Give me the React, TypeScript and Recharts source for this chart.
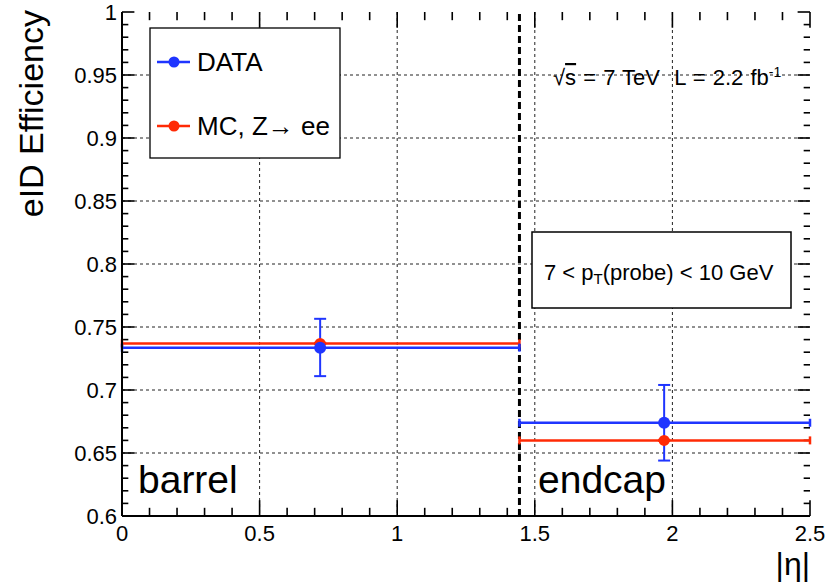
import React from "react";
import {
  ComposedChart,
  Scatter,
  XAxis,
  YAxis,
  CartesianGrid,
  ReferenceLine,
  ErrorBar,
} from "recharts";

// ---- data ----
const regions = ["barrel", "endcap"];
const binLow = [0, 1.4442];
const binHigh = [1.4442, 2.5];
const pointX = [0.72, 1.97];
const dataEff = [0.7336, 0.674];
const dataErrLow = [0.0226, 0.03];
const dataErrHigh = [0.0229, 0.03];
const mcEff = [0.737, 0.66];
const mcErr = [0.0005, 0.0005];
const seriesNames = ["DATA", "MC, Z\u2192 ee"];
const seriesColors = ["#1f35ff", "#ff2a05"];
const xMajor = [0, 0.5, 1, 1.5, 2, 2.5];
const yMajor = [0.6, 0.65, 0.7, 0.75, 0.8, 0.85, 0.9, 0.95, 1];
const xDomain = [0, 2.5];
const yDomain = [0.6, 1];
const barrelEdge = 1.4442;

const xTicksAll: number[] = [];
for (let i = 0; i <= 25; i++) xTicksAll.push(i / 10);
const yTicksAll: number[] = [];
for (let i = 60; i <= 100; i++) yTicksAll.push(i / 100);

const dataRows = pointX.map((x, i) => ({
  x,
  y: dataEff[i],
  ex: [x - binLow[i], binHigh[i] - x],
  ey: [dataErrLow[i], dataErrHigh[i]],
}));
const mcRows = pointX.map((x, i) => ({
  x,
  y: mcEff[i],
  ex: [x - binLow[i], binHigh[i] - x],
  ey: [mcErr[i], mcErr[i]],
}));

const FONT = "'Liberation Sans', Arial, Helvetica, sans-serif";
const isMajor = (v: number, list: number[]) =>
  list.some((m) => Math.abs(m - v) < 1e-6);
const fmt = (v: number) => String(Math.round(v * 100) / 100);

// inward tick lengths expressed in axis units (plot is ~688 x 504 px)
const xTickLen = (major: boolean) => (major ? 0.0125 : 0.0065); // along y
const yTickLen = (major: boolean) => (major ? 0.045 : 0.023); // along x

const LeftTick = (props: any) => {
  const x = Number(props.x);
  const y = Number(props.y);
  const v = props.payload.value;
  if (!isMajor(v, yMajor)) return <g />;
  return (
    <text x={x - 5} y={y} dy="0.36em" textAnchor="end" fontSize={22} fontFamily={FONT} fill="#000">
      {fmt(v)}
    </text>
  );
};
const BottomTick = (props: any) => {
  const x = Number(props.x);
  const y = Number(props.y);
  const v = props.payload.value;
  if (!isMajor(v, xMajor)) return <g />;
  return (
    <text x={x} y={y + 25} textAnchor="middle" fontSize={22} fontFamily={FONT} fill="#000">
      {fmt(v)}
    </text>
  );
};

const makeDot = (color: string, r: number) => (props: any) =>
  <circle cx={props.cx} cy={props.cy} r={r} fill={color} />;

const tickStroke = { stroke: "#000", strokeWidth: 1.6 };

export default function App() {
  return (
    <div style={{ position: "absolute", left: 0, top: 0, width: 838, height: 586, background: "#fff" }}>
      <ComposedChart
        width={838}
        height={586}
        margin={{ top: 12, right: 28, bottom: 40, left: 62 }}
      >
        <XAxis
          xAxisId="b"
          type="number"
          dataKey="x"
          domain={xDomain}
          allowDataOverflow
          ticks={xMajor}
          interval={0}
          tickSize={0}
          tickMargin={0}
          tickLine={false}
          tick={<BottomTick />}
          axisLine={{ stroke: "#000", strokeWidth: 2 }}
          height={30}
        />
        <XAxis
          xAxisId="t"
          orientation="top"
          type="number"
          dataKey="x"
          domain={xDomain}
          allowDataOverflow
          tick={false}
          tickLine={false}
          axisLine={{ stroke: "#000", strokeWidth: 2 }}
          height={0}
        />
        <YAxis
          yAxisId="l"
          type="number"
          dataKey="y"
          domain={yDomain}
          allowDataOverflow
          ticks={yMajor}
          interval={0}
          tickSize={0}
          tickMargin={0}
          tickLine={false}
          tick={<LeftTick />}
          axisLine={{ stroke: "#000", strokeWidth: 2 }}
          width={60}
        />
        <YAxis
          yAxisId="r"
          orientation="right"
          type="number"
          dataKey="y"
          domain={yDomain}
          allowDataOverflow
          tick={false}
          tickLine={false}
          axisLine={{ stroke: "#000", strokeWidth: 2 }}
          width={0}
        />
        <CartesianGrid
          xAxisId="b"
          yAxisId="l"
          stroke="#222"
          strokeWidth={1}
          strokeDasharray="3 3"
          horizontalValues={yMajor.slice(1, -1)}
          verticalValues={xMajor.slice(1, -1)}
        />
        {/* inward tick marks on all four sides, placed through the axis scales */}
        {yTicksAll.map((v) => {
          const len = yTickLen(isMajor(v, yMajor));
          return (
            <ReferenceLine
              key={`yl${v}`}
              xAxisId="b"
              yAxisId="l"
              segment={[{ x: xDomain[0], y: v }, { x: xDomain[0] + len, y: v }]}
              {...tickStroke}
              ifOverflow="visible"
            />
          );
        })}
        {yTicksAll.map((v) => {
          const len = yTickLen(isMajor(v, yMajor));
          return (
            <ReferenceLine
              key={`yr${v}`}
              xAxisId="b"
              yAxisId="l"
              segment={[{ x: xDomain[1] - len, y: v }, { x: xDomain[1], y: v }]}
              {...tickStroke}
              ifOverflow="visible"
            />
          );
        })}
        {xTicksAll.map((v) => {
          const len = xTickLen(isMajor(v, xMajor));
          return (
            <ReferenceLine
              key={`xb${v}`}
              xAxisId="b"
              yAxisId="l"
              segment={[{ x: v, y: yDomain[0] }, { x: v, y: yDomain[0] + len }]}
              {...tickStroke}
              ifOverflow="visible"
            />
          );
        })}
        {xTicksAll.map((v) => {
          const len = xTickLen(isMajor(v, xMajor));
          return (
            <ReferenceLine
              key={`xt${v}`}
              xAxisId="b"
              yAxisId="l"
              segment={[{ x: v, y: yDomain[1] - len }, { x: v, y: yDomain[1] }]}
              {...tickStroke}
              ifOverflow="visible"
            />
          );
        })}
        <ReferenceLine
          xAxisId="b"
          yAxisId="l"
          x={barrelEdge}
          stroke="#000"
          strokeWidth={3}
          strokeDasharray="7 4"
        />
        <Scatter
          xAxisId="b"
          yAxisId="l"
          dataKey="y"
          name={seriesNames[1]}
          data={mcRows}
          fill={seriesColors[1]}
          shape={makeDot(seriesColors[1], 5.5)}
          isAnimationActive={false}
        >
          <ErrorBar dataKey="ex" direction="x" width={4} stroke={seriesColors[1]} strokeWidth={2.5} isAnimationActive={false} />
          <ErrorBar dataKey="ey" direction="y" width={6} stroke={seriesColors[1]} strokeWidth={2} isAnimationActive={false} />
        </Scatter>
        <Scatter
          xAxisId="b"
          yAxisId="l"
          dataKey="y"
          name={seriesNames[0]}
          data={dataRows}
          fill={seriesColors[0]}
          shape={makeDot(seriesColors[0], 6)}
          isAnimationActive={false}
        >
          <ErrorBar dataKey="ex" direction="x" width={4} stroke={seriesColors[0]} strokeWidth={2.5} isAnimationActive={false} />
          <ErrorBar dataKey="ey" direction="y" width={6} stroke={seriesColors[0]} strokeWidth={2} isAnimationActive={false} />
        </Scatter>
      </ComposedChart>
      <svg
        width={838}
        height={586}
        style={{ position: "absolute", left: 0, top: 0, pointerEvents: "none" }}
        fontFamily={FONT}
      >
        {/* axis titles */}
        <text
          x={43}
          y={10}
          transform="rotate(-90 43 10)"
          textAnchor="end"
          fontSize={34}
          fill="#000"
        >
          eID Efficiency
        </text>
        <text x={810} y={575} textAnchor="end" fontSize={32} fill="#000">
          |η|
        </text>
        {/* legend */}
        <rect x={150} y={28} width={190} height={130} fill="#fff" stroke="#000" strokeWidth={1.3} />
        {seriesNames.map((name, i) => {
          const cy = 62 + i * 64;
          return (
            <g key={name}>
              <path d={`M157,${cy}H190`} stroke={seriesColors[i]} strokeWidth={2.5} fill="none" />
              <circle cx={174} cy={cy} r={5.5} fill={seriesColors[i]} />
              <text x={197} y={cy + 9} fontSize={26} fill="#000">
                {name}
              </text>
            </g>
          );
        })}
        {/* energy / lumi */}
        <text x={553} y={85} fontSize={22} wordSpacing={1} fill="#000">
          √<tspan style={{ textDecoration: "overline" }}>s</tspan>{" = 7 TeV\u00a0\u00a0L = 2.2 fb"}
          <tspan dy={-8} fontSize={14}>-1</tspan>
        </text>
        {/* pT box */}
        <rect x={532} y={232} width={259} height={76} fill="#fff" stroke="#000" strokeWidth={1.5} />
        <text x={544} y={280} fontSize={22} fill="#000">
          7 &lt; p<tspan dy={4} fontSize={15}>T</tspan>
          <tspan dy={-4}>(probe) &lt; 10 GeV</tspan>
        </text>
        {/* region labels */}
        <text x={138} y={493} fontSize={39} fill="#000">{regions[0]}</text>
        <text x={538} y={493} fontSize={39} fill="#000">{regions[1]}</text>
      </svg>
    </div>
  );
}
